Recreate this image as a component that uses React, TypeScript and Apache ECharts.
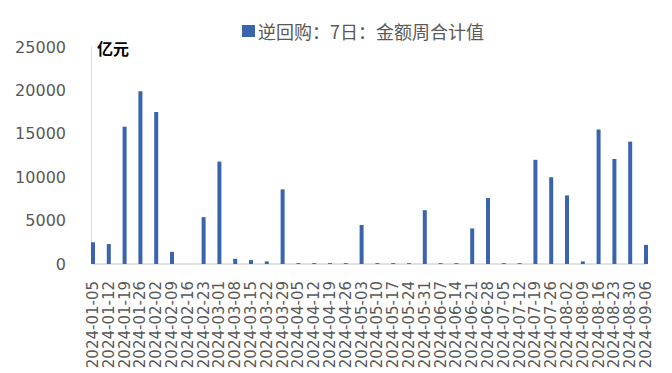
import React, { useEffect, useRef } from "react";
import * as echarts from "echarts";

const categories: string[] = [
  "2024-01-05", "2024-01-12", "2024-01-19", "2024-01-26",
  "2024-02-02", "2024-02-09", "2024-02-16", "2024-02-23",
  "2024-03-01", "2024-03-08", "2024-03-15", "2024-03-22", "2024-03-29",
  "2024-04-05", "2024-04-12", "2024-04-19", "2024-04-26",
  "2024-05-03", "2024-05-10", "2024-05-17", "2024-05-24", "2024-05-31",
  "2024-06-07", "2024-06-14", "2024-06-21", "2024-06-28",
  "2024-07-05", "2024-07-12", "2024-07-19", "2024-07-26",
  "2024-08-02", "2024-08-09", "2024-08-16", "2024-08-23", "2024-08-30",
  "2024-09-06",
];

const values: number[] = [
  2500, 2300, 15800, 19900,
  17500, 1400, 0, 5400,
  11800, 600, 450, 300, 8600,
  100, 100, 100, 100,
  4500, 100, 100, 100, 6200,
  100, 100, 4100, 7600,
  100, 100, 12000, 10000,
  7900, 300, 15500, 12100, 14100,
  2200,
];

const seriesName = "逆回购：7日：金额周合计值";
const unitLabel = "亿元";
const yTicks = { min: 0, max: 25000, interval: 5000 };

export default function App() {
  const ref = useRef<HTMLDivElement>(null);
  useEffect(() => {
    if (!ref.current) return;
    const chart = echarts.init(ref.current, null, { renderer: "svg" });
    chart.setOption({
      animation: false,
      backgroundColor: "#ffffff",
      legend: {
        data: [seriesName],
        left: 237,
        top: 17,
        itemWidth: 13,
        itemHeight: 12,
        icon: "rect",
        textStyle: {
          fontFamily: "Noto Sans CJK SC",
          fontSize: 18,
          color: "#595959",
          padding: [0, 0, 0, -2],
        },
      },
      graphic: [
        {
          type: "text",
          left: 97,
          top: 40,
          style: {
            text: unitLabel,
            font: "bold 16px 'Noto Sans CJK SC'",
            fill: "#000000",
          },
        },
      ],
      grid: {
        left: 93,
        right: 26,
        top: 47,
        bottom: 109,
        containLabel: false,
      },
      xAxis: {
        type: "category",
        data: categories,
        boundaryGap: false,
        axisLine: { show: true, lineStyle: { color: "#d9d9d9", width: 1.5 } },
        axisTick: { show: false },
        axisLabel: {
          rotate: 90,
          interval: 0,
          margin: 17,
          fontFamily: "DejaVu Sans",
          fontSize: 15,
          color: "#595959",
        },
        splitLine: { show: false },
      },
      yAxis: {
        type: "value",
        min: yTicks.min,
        max: yTicks.max,
        interval: yTicks.interval,
        offset: 2,
        axisLine: { show: true, lineStyle: { color: "#d9d9d9", width: 1 } },
        axisTick: { show: false },
        splitLine: { show: false },
        axisLabel: {
          margin: 25,
          fontFamily: "DejaVu Sans",
          fontSize: 16,
          color: "#595959",
          formatter: (v: number) => String(v),
        },
      },
      series: [
        {
          name: seriesName,
          type: "bar",
          data: values,
          barWidth: 4,
          itemStyle: { color: "#3A64AE" },
        },
      ],
    });
    return () => chart.dispose();
  }, []);
  return <div ref={ref} style={{ width: 672, height: 373, position: "fixed", left: 0, top: 0 }} />;
}
